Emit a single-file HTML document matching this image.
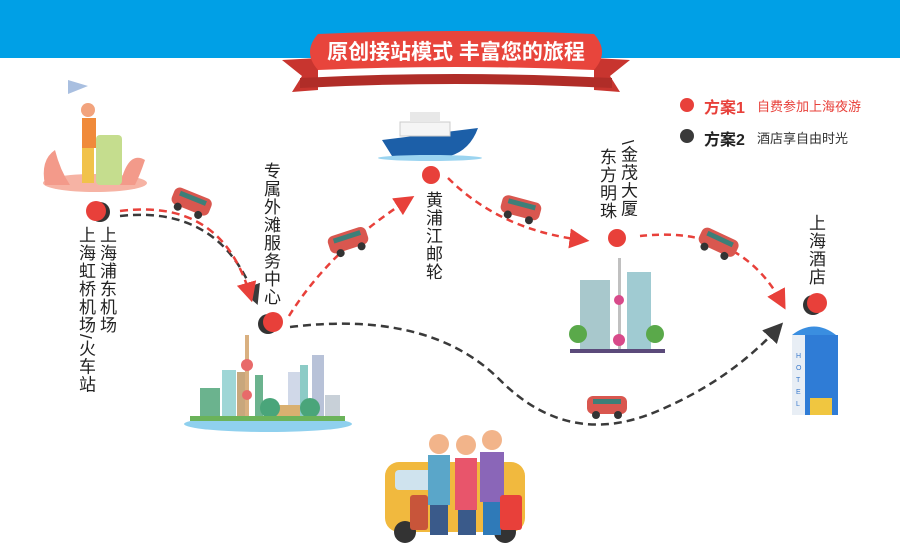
<!DOCTYPE html>
<html><head><meta charset="utf-8"><style>
html,body{margin:0;padding:0;background:#fff;}
#c{position:relative;width:900px;height:545px;overflow:hidden;background:#fff;font-family:"Liberation Sans","Noto Sans CJK SC",sans-serif;}
.v{position:absolute;writing-mode:vertical-rl;font-size:17px;line-height:19px;color:#222;letter-spacing:1px;white-space:nowrap;}
.t{position:absolute;white-space:nowrap;}
</style></head><body><div id="c">
<svg width="900" height="545" style="position:absolute;left:0;top:0">
<defs>
<marker id="ar" markerWidth="8" markerHeight="8" refX="5" refY="4" orient="auto" markerUnits="strokeWidth"><path d="M0,0 L8,4 L0,8 Z" fill="#e8403a"/></marker>
<marker id="ab" markerWidth="8" markerHeight="8" refX="5" refY="4" orient="auto" markerUnits="strokeWidth"><path d="M0,0 L8,4 L0,8 Z" fill="#3a3a3a"/></marker>
<g id="bus"><rect x="0" y="4" width="40" height="18" rx="6" fill="#d9574f"/><rect x="6" y="7" width="28" height="5" fill="#3e7f78"/><circle cx="9" cy="23" r="4" fill="#333"/><circle cx="31" cy="23" r="4" fill="#333"/></g>
</defs>
<rect x="0" y="0" width="900" height="58" fill="#00a0e6"/>
<path d="M282,60 L318,58 L318,90 L292,92 L302,76 Z" fill="#c8352f"/>
<path d="M630,60 L594,58 L594,90 L620,92 L610,76 Z" fill="#c8352f"/>
<path d="M300,78 Q455,70 612,78 L612,88 Q455,80 300,88 Z" fill="#b02d28"/>
<path d="M318,34 Q455,28 594,34 Q610,52 594,70 Q455,64 318,70 Q302,52 318,34 Z" fill="#e8453c"/>
<path d="M120,216 Q220,205 255,298" fill="none" stroke="#3a3a3a" stroke-width="2.5" stroke-dasharray="8,5" marker-end="url(#ab)"/>
<path d="M120,211 Q222,198 250,295" fill="none" stroke="#e8403a" stroke-width="2.5" stroke-dasharray="8,5" marker-end="url(#ar)"/>
<path d="M289,316 Q330,250 408,200" fill="none" stroke="#e8403a" stroke-width="2.5" stroke-dasharray="7,5" marker-end="url(#ar)"/>
<path d="M448,178 Q500,230 582,240" fill="none" stroke="#e8403a" stroke-width="2.5" stroke-dasharray="7,5" marker-end="url(#ar)"/>
<path d="M640,236 Q740,225 782,303" fill="none" stroke="#e8403a" stroke-width="2.5" stroke-dasharray="7,5" marker-end="url(#ar)"/>
<path d="M290,327 Q430,310 500,380 Q570,450 660,410 Q730,380 778,328" fill="none" stroke="#3a3a3a" stroke-width="2.5" stroke-dasharray="8,5" marker-end="url(#ab)"/>
<circle cx="100" cy="212" r="10" fill="#333"/><circle cx="96" cy="211" r="10" fill="#e8403a"/>
<circle cx="268" cy="324" r="10" fill="#333"/><circle cx="273" cy="322" r="10" fill="#e8403a"/>
<circle cx="431" cy="175" r="9" fill="#e8403a"/>
<circle cx="617" cy="238" r="9" fill="#e8403a"/>
<circle cx="813" cy="305" r="10" fill="#333"/><circle cx="817" cy="303" r="10" fill="#e8403a"/>
<circle cx="687" cy="105" r="7" fill="#e8403a"/>
<circle cx="687" cy="136" r="7" fill="#3a3a3a"/>
<path d="M68,80 L88,86 L68,94 Z" fill="#a9bfe0"/>
<ellipse cx="95" cy="183" rx="52" ry="9" fill="#f6b3a4"/>
<path d="M45,185 Q40,160 55,150 Q60,170 70,185 Z" fill="#f39a8a"/>
<path d="M120,185 Q128,150 145,160 Q140,175 135,185 Z" fill="#f39a8a"/>
<rect x="82" y="118" width="14" height="30" fill="#f08a3a"/><rect x="82" y="148" width="12" height="35" fill="#f1c24a"/>
<rect x="96" y="135" width="26" height="50" rx="4" fill="#c5dd8e"/>
<circle cx="88" cy="110" r="7" fill="#f2a37d"/>
<use href="#bus" transform="translate(178,182) rotate(22)"/>
<use href="#bus" transform="translate(325,234) rotate(-18)"/>
<use href="#bus" transform="translate(505,190) rotate(15)"/>
<use href="#bus" transform="translate(706,222) rotate(25)"/>
<use href="#bus" transform="translate(587,392)"/>
<path d="M382,140 L478,128 Q470,150 450,156 L392,156 Z" fill="#1c5fa8"/>
<rect x="400" y="122" width="50" height="14" fill="#f5f5f5" stroke="#ccc"/>
<rect x="410" y="112" width="30" height="10" fill="#e8e8e8"/>
<ellipse cx="430" cy="158" rx="52" ry="3" fill="#9bd4f0"/>
<ellipse cx="268" cy="424" rx="84" ry="8" fill="#8fd0ee"/>
<rect x="200" y="388" width="20" height="30" fill="#6bb38e"/>
<rect x="222" y="370" width="14" height="48" fill="#9fd6d6"/>
<rect x="237" y="372" width="10" height="46" fill="#c8a77c"/>
<rect x="245" y="335" width="4" height="85" fill="#d9b080"/><circle cx="247" cy="365" r="6" fill="#e86a6a"/><circle cx="247" cy="395" r="5" fill="#e86a6a"/>
<rect x="255" y="375" width="8" height="43" fill="#6bb38e"/>
<rect x="288" y="372" width="12" height="46" fill="#d0d8e8"/>
<rect x="300" y="365" width="8" height="53" fill="#8ccbc6"/>
<rect x="312" y="355" width="12" height="63" fill="#b8c2d8"/>
<rect x="325" y="395" width="15" height="23" fill="#c8d0d8"/>
<rect x="265" y="405" width="35" height="13" fill="#d9b070"/>
<circle cx="270" cy="408" r="10" fill="#4aa57a"/><circle cx="310" cy="408" r="10" fill="#4aa57a"/>
<rect x="190" y="416" width="155" height="5" fill="#6bb35a"/>
<rect x="580" y="280" width="30" height="70" fill="#a8c8cc"/>
<rect x="627" y="272" width="24" height="78" fill="#a0cbd2"/>
<rect x="618" y="258" width="3" height="92" fill="#c0c0c0"/><circle cx="619" cy="300" r="5" fill="#d84a8a"/><circle cx="619" cy="340" r="6" fill="#d84a8a"/>
<circle cx="578" cy="334" r="9" fill="#5aa94a"/><circle cx="655" cy="334" r="9" fill="#5aa94a"/>
<rect x="570" y="349" width="95" height="4" fill="#5b4a7a"/>
<path d="M792,335 Q814,318 836,335 Z" fill="#3a8ee0"/>
<rect x="792" y="335" width="16" height="80" fill="#e8eef5"/>
<rect x="805" y="335" width="33" height="80" fill="#2f7cd6"/>
<rect x="810" y="398" width="22" height="17" fill="#f0c640"/>
<text x="796" y="358" font-size="7" fill="#3a7acc" font-family="Liberation Sans">H</text>
<text x="796" y="370" font-size="7" fill="#3a7acc" font-family="Liberation Sans">O</text>
<text x="796" y="382" font-size="7" fill="#3a7acc" font-family="Liberation Sans">T</text>
<text x="796" y="394" font-size="7" fill="#3a7acc" font-family="Liberation Sans">E</text>
<text x="796" y="406" font-size="7" fill="#3a7acc" font-family="Liberation Sans">L</text>
<rect x="385" y="462" width="140" height="70" rx="14" fill="#f1b93e"/>
<rect x="395" y="470" width="40" height="20" rx="4" fill="#cfe3ee"/>
<circle cx="405" cy="532" r="11" fill="#333"/><circle cx="505" cy="532" r="11" fill="#333"/>
<rect x="428" y="455" width="22" height="50" fill="#5aa6c9"/><circle cx="439" cy="444" r="10" fill="#f2b48a"/>
<rect x="455" y="458" width="22" height="52" fill="#e8556b"/><circle cx="466" cy="445" r="10" fill="#f2b48a"/>
<rect x="480" y="452" width="24" height="50" fill="#8a66b8"/><circle cx="492" cy="440" r="10" fill="#f2b48a"/>
<rect x="430" y="505" width="18" height="30" fill="#3a5a8a"/><rect x="458" y="510" width="18" height="25" fill="#3a5a8a"/><rect x="483" y="502" width="18" height="33" fill="#2f7ab8"/>
<rect x="500" y="495" width="22" height="35" rx="3" fill="#e8403a"/>
<rect x="410" y="495" width="18" height="35" rx="3" fill="#c8553a"/>
</svg>
<div class="t" style="left:326px;top:38px;width:260px;text-align:center;color:#fff;font-size:21px;font-weight:bold;line-height:30px;">原创接站模式 丰富您的旅程</div>
<div class="t" style="left:704px;top:94px;font-size:16px;font-weight:bold;color:#e8403a;">方案1</div>
<div class="t" style="left:757px;top:96px;font-size:13px;color:#e8403a;">自费参加上海夜游</div>
<div class="t" style="left:704px;top:126px;font-size:16px;font-weight:bold;color:#222;">方案2</div>
<div class="t" style="left:757px;top:128px;font-size:13px;color:#333;">酒店享自由时光</div>
<div class="v" style="left:97px;top:226px;">上海浦东机场</div>
<div class="v" style="left:76px;top:226px;">上海虹桥机场/火车站</div>
<div class="v" style="left:261px;top:162px;">专属外滩服务中心</div>
<div class="v" style="left:423px;top:191px;">黄浦江邮轮</div>
<div class="v" style="left:618px;top:140px;">\金茂大厦</div>
<div class="v" style="left:597px;top:148px;">东方明珠</div>
<div class="v" style="left:806px;top:214px;">上海酒店</div>
</div></body></html>
